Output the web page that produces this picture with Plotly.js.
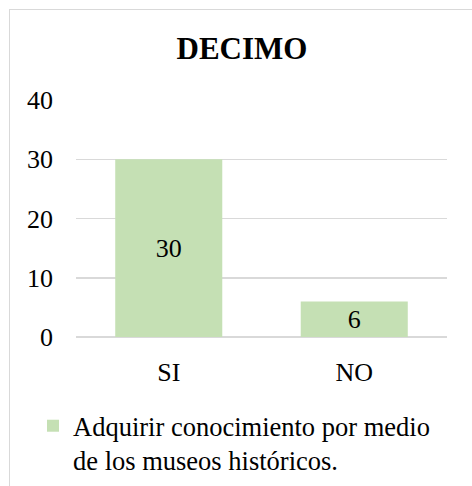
<!DOCTYPE html>
<html>
<head>
<meta charset="utf-8">
<script src="https://cdn.plot.ly/plotly-3.0.1.min.js"></script>
<style>
  html, body { margin: 0; padding: 0; background: #ffffff; }
  #wrap { position: relative; width: 472px; height: 486px; overflow: hidden; }
  #frame { position: absolute; left: 9px; top: 9px; width: 520px; height: 520px; border: 1.5px solid #d9d9d9; box-sizing: border-box; }
  #chart { position: absolute; left: 0; top: 0; width: 472px; height: 486px; }
</style>
</head>
<body>
<div id="wrap">
  <div id="frame"></div>
  <div id="chart"></div>
</div>
<script>
const categories = ["SI", "NO"];
const values = [30, 6];
const seriesName = "Adquirir conocimiento por medio<br>de los museos históricos.";
const chartTitle = "DECIMO";
const yTicks = [0, 10, 20, 30, 40];

const font = "Liberation Serif";

const data = [{
  type: "bar",
  x: categories,
  y: values,
  name: seriesName,
  marker: { color: "#c5e0b4", line: { width: 0 } },
  text: values.map(String),
  textposition: "inside",
  insidetextanchor: "middle",
  textangle: 0,
  textfont: { family: font, size: 26, color: "#000000" },
  hoverinfo: "none",
  showlegend: true
}];

const layout = {
  width: 472,
  height: 486,
  paper_bgcolor: "rgba(0,0,0,0)",
  plot_bgcolor: "rgba(0,0,0,0)",
  margin: { l: 76, r: 25, t: 100, b: 149, pad: 0 },
  bargap: 0.423,
  font: { family: font },
  title: {
    text: "<b>" + chartTitle + "</b>",
    font: { family: font, size: 31, color: "#000000" },
    x: 242 / 472, xanchor: "center", xref: "container",
    y: 1 - 48 / 486, yanchor: "middle", yref: "container"
  },
  xaxis: {
    type: "category",
    showgrid: false,
    zeroline: false,
    showline: false,
    ticks: "",
    ticklabelstandoff: 17,
    tickfont: { family: font, size: 26, color: "#000000" },
    fixedrange: true
  },
  yaxis: {
    range: [0, 40],
    tickvals: yTicks,
    ticktext: yTicks.map(String),
    showgrid: true,
    gridcolor: "#d9d9d9",
    gridwidth: 1.5,
    zeroline: true,
    zerolinecolor: "#d9d9d9",
    zerolinewidth: 1.5,
    showline: false,
    ticks: "",
    ticklabelstandoff: 22,
    tickfont: { family: font, size: 26, color: "#000000" },
    fixedrange: true
  },
  showlegend: true,
  legend: {
    orientation: "h",
    xref: "container", yref: "container",
    x: 33 / 472, xanchor: "left",
    y: 1 - 402 / 486, yanchor: "top",
    valign: "top",
    font: { family: font, size: 26.5, color: "#000000" },
    bgcolor: "rgba(0,0,0,0)",
    itemclick: false, itemdoubleclick: false
  }
};

Plotly.newPlot("chart", data, layout, { displayModeBar: false, staticPlot: true });
</script>
</body>
</html>
